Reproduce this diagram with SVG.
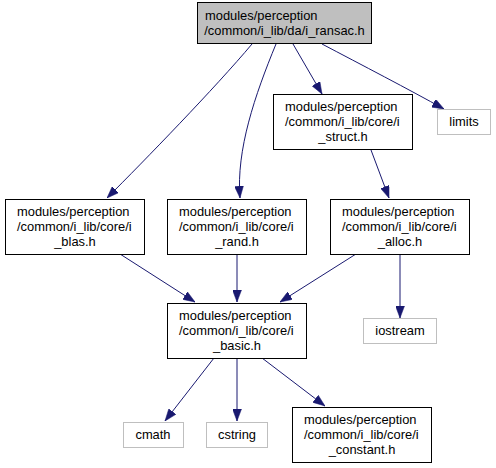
<svg xmlns="http://www.w3.org/2000/svg" width="496" height="468" viewBox="0 0 496 468">
<style>
text{font-family:"Liberation Sans",Arial,Helvetica,sans-serif;font-size:12.9px;fill:#000}
.c{text-anchor:middle}
.n{fill:#fff;stroke:#000;stroke-width:1}
.g{fill:#fff;stroke:#bfbfbf;stroke-width:1}
.e{fill:none;stroke:#191970;stroke-width:1}
</style>
<defs>
<marker id="a" viewBox="0 0 12 9" refX="12" refY="4.5" markerWidth="12" markerHeight="9" markerUnits="userSpaceOnUse" orient="auto">
<path d="M0,0 L12,4.5 L0,9 Z" fill="#191970" stroke="#191970" stroke-width="0.5"/>
</marker>
</defs>
<rect width="496" height="468" fill="#fff"/>
<g id="connectors">
<path class="e" marker-end="url(#a)" d="M252,44 C215,88 145,160 107,198"/>
<path class="e" marker-end="url(#a)" d="M276,44 C255,95 236,150 240,198"/>
<path class="e" marker-end="url(#a)" d="M293,44 L322,94"/>
<path class="e" marker-end="url(#a)" d="M322,44 C360,64 410,90 444,109"/>
<path class="e" marker-end="url(#a)" d="M371,150 L389,198"/>
<path class="e" marker-end="url(#a)" d="M120,254 L195,302"/>
<path class="e" marker-end="url(#a)" d="M237,254 L237,302"/>
<path class="e" marker-end="url(#a)" d="M356,254 L280,302"/>
<path class="e" marker-end="url(#a)" d="M400,254 L400,318"/>
<path class="e" marker-end="url(#a)" d="M214,358 L165,421"/>
<path class="e" marker-end="url(#a)" d="M237,358 L237,421"/>
<path class="e" marker-end="url(#a)" d="M262,358 L325,406"/>
</g>
<g id="node_ransac">
<rect x="197.5" y="2.5" width="174" height="41" fill="#bfbfbf" stroke="#000"/>
<text x="205" y="20">modules/perception</text>
<text x="284.5" y="35" class="c">/common/i_lib/da/i_ransac.h</text>
</g>
<g id="node_struct">
<rect class="n" x="273.5" y="94.5" width="139" height="55"/>
<text x="285" y="111">modules/perception</text>
<text x="285" y="126">/common/i_lib/core/i</text>
<text x="343" y="141" class="c">_struct.h</text>
</g>
<g id="node_limits">
<rect class="g" x="437.5" y="109.5" width="53" height="25"/>
<text x="464" y="126" class="c">limits</text>
</g>
<g id="node_blas">
<rect class="n" x="5.5" y="199.5" width="139" height="55"/>
<text x="17" y="216">modules/perception</text>
<text x="17" y="231">/common/i_lib/core/i</text>
<text x="75" y="246" class="c">_blas.h</text>
</g>
<g id="node_rand">
<rect class="n" x="167.5" y="199.5" width="139" height="55"/>
<text x="179" y="216">modules/perception</text>
<text x="179" y="231">/common/i_lib/core/i</text>
<text x="237" y="246" class="c">_rand.h</text>
</g>
<g id="node_alloc">
<rect class="n" x="330.5" y="199.5" width="139" height="55"/>
<text x="342" y="216">modules/perception</text>
<text x="342" y="231">/common/i_lib/core/i</text>
<text x="400" y="246" class="c">_alloc.h</text>
</g>
<g id="node_iostream">
<rect class="g" x="363.5" y="318.5" width="73" height="25"/>
<text x="400" y="335" class="c">iostream</text>
</g>
<g id="node_basic">
<rect class="n" x="167.5" y="303.5" width="139" height="55"/>
<text x="179" y="320">modules/perception</text>
<text x="179" y="335">/common/i_lib/core/i</text>
<text x="237" y="350" class="c">_basic.h</text>
</g>
<g id="node_cmath">
<rect class="g" x="123.5" y="422.5" width="60" height="25"/>
<text x="153" y="439" class="c">cmath</text>
</g>
<g id="node_cstring">
<rect class="g" x="206.5" y="422.5" width="61" height="25"/>
<text x="237" y="439" class="c">cstring</text>
</g>
<g id="node_constant">
<rect class="n" x="292.5" y="407.5" width="139" height="55"/>
<text x="304" y="424">modules/perception</text>
<text x="304" y="439">/common/i_lib/core/i</text>
<text x="362" y="454" class="c">_constant.h</text>
</g>
</svg>
